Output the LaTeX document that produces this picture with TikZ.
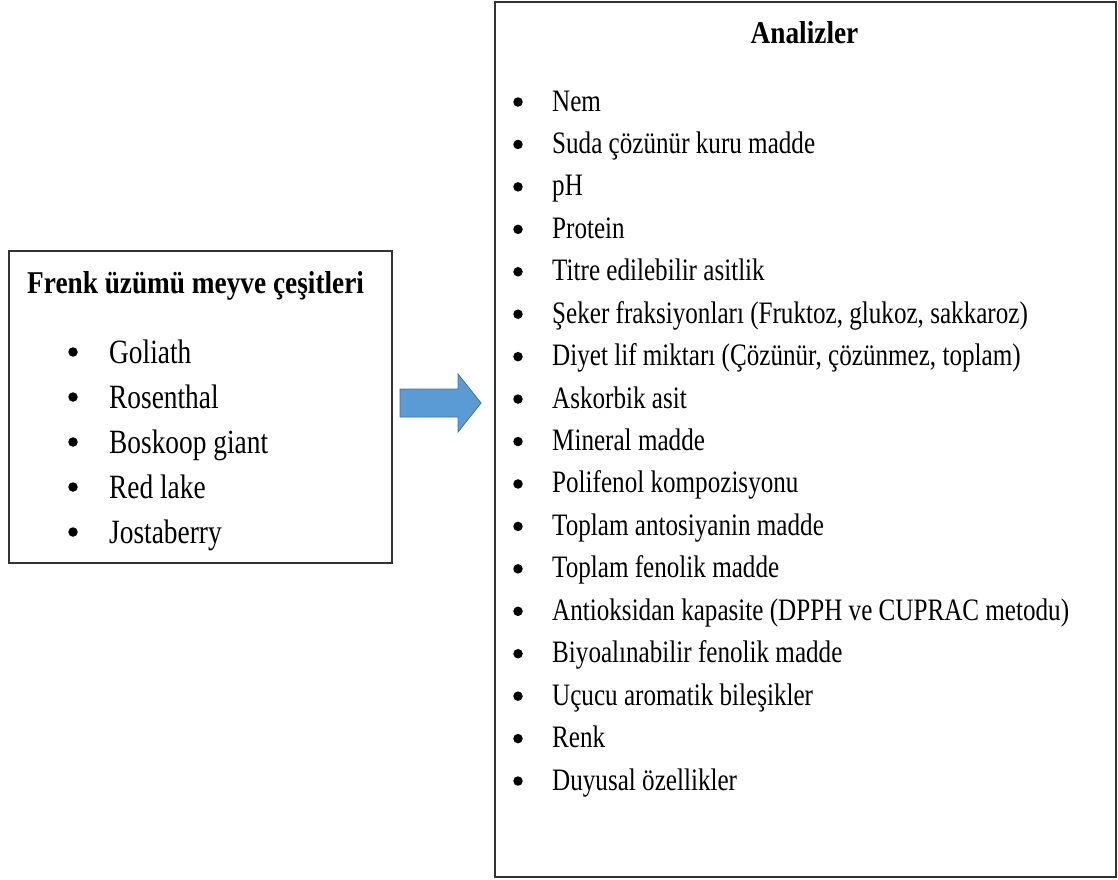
\documentclass[tikz,border=0pt]{standalone}
\usepackage{fontspec}
\setmainfont[FakeStretch=0.861]{Liberation Serif}
\newfontfamily\listfont[FakeStretch=0.805]{Liberation Serif}
\definecolor{arrowblue}{HTML}{5B9BD5}
\definecolor{arrowedge}{HTML}{41719C}
\tikzset{
  box/.style={draw=black!80, line width=1.6pt, fill=white, inner sep=0pt, anchor=north west},
  ltxt/.style={inner sep=0pt, anchor=base west, font=\listfont\fontsize{34}{40}\selectfont},
  rtxt/.style={inner sep=0pt, anchor=base west, font=\listfont\fontsize{31.2}{38}\selectfont},
  dot/.style={circle, fill=black, inner sep=0pt, minimum size=9.5pt},
  ttl/.style={inner sep=0pt, anchor=base, font=\fontsize{31.7}{38}\selectfont\bfseries},
  blockarrow/.style={fill=arrowblue, draw=arrowedge, line width=0.8pt, line join=miter}
}
\begin{document}
\begin{tikzpicture}[x=1pt,y=-1pt]
\useasboundingbox (0,0) rectangle (1118,879);
% boxes
\node[box, minimum width=383pt, minimum height=312pt] (left) at (8,250) {};
\node[box, minimum width=621pt, minimum height=875pt] (right) at (494,1) {};
% titles
\node[ttl, anchor=base west] (ltitle) at (27,293) {Frenk üzümü meyve çeşitleri};
\node[ttl] (rtitle) at (804.5,43) {Analizler};
% left list
\foreach \t [count=\i from 0] in {Goliath,Rosenthal,Boskoop giant,Red lake,Jostaberry}{
  \node[dot] (lb\i) at (73,352+45*\i) {};
  \node[ltxt] (lt\i) at (109,363+45*\i) {\t};
}
% right list
\foreach \t [count=\i from 0] in {Nem,Suda çözünür kuru madde,pH,Protein,Titre edilebilir asitlik,
  {Şeker fraksiyonları (Fruktoz, glukoz, sakkaroz)},
  {Diyet lif miktarı (Çözünür, çözünmez, toplam)},
  Askorbik asit,Mineral madde,Polifenol kompozisyonu,Toplam antosiyanin madde,
  Toplam fenolik madde,Antioksidan kapasite (DPPH ve CUPRAC metodu),
  Biyoalınabilir fenolik madde,Uçucu aromatik bileşikler,Renk,Duyusal özellikler}{
  \node[dot] (rb\i) at (518,102+42.44*\i) {};
  \node[rtxt] (rt\i) at (552,111+42.44*\i) {\t};
}
% block arrow between boxes
\coordinate (a1) at (400,389);
\draw[blockarrow] (a1) -- (458,389) -- (458,374) -- (481,403) -- (458,432) -- (458,417) -- (400,417) -- cycle;
\end{tikzpicture}
\end{document}
